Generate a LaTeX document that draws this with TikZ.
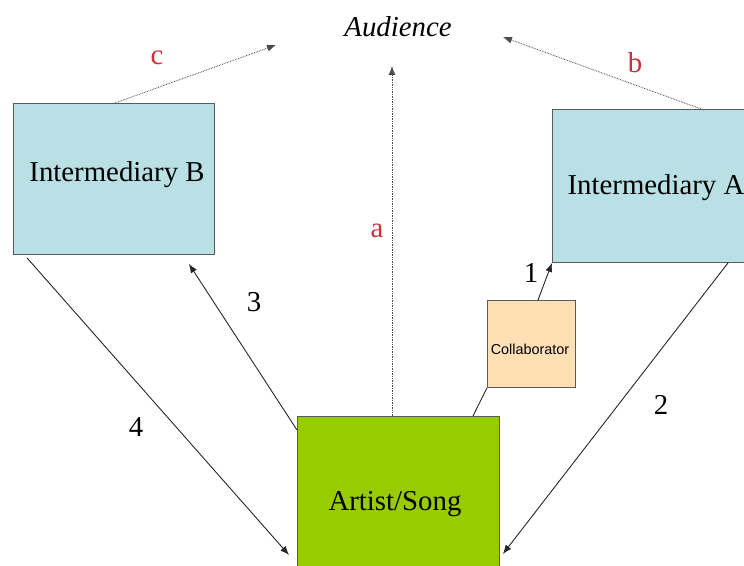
\documentclass[tikz,border=0pt]{standalone}
\usepackage{fontspec}
\setmainfont{Liberation Serif}
\newfontfamily\arialf{Liberation Sans}
\usetikzlibrary{arrows.meta}
\definecolor{boxblue}{RGB}{185,224,228}
\definecolor{songgreen}{RGB}{153,204,0}
\definecolor{peach}{RGB}{255,224,181}
\definecolor{labred}{RGB}{200,50,56}
\definecolor{edgegray}{RGB}{90,90,90}
\begin{document}
\begin{tikzpicture}[x=1pt,y=-1pt,
  box/.style={draw=edgegray, line width=0.9pt, inner sep=0pt, anchor=north west},
  big/.style={font=\fontsize{28.8}{34}\selectfont, inner sep=0pt, anchor=base},
  redlab/.style={big, text=labred},
  tip/.style={-{Latex[length=9pt,width=7pt]}},
  conn/.style={tip, line width=0.9pt, draw=black!85},
  dotconn/.style={tip, line width=0.8pt, draw=black!70, dash pattern=on 0.8pt off 0.9pt}]
\useasboundingbox (0,0) rectangle (744,565);
\clip (0,0) rectangle (744,565);
% boxes
\node[box, fill=boxblue, minimum width=201pt, minimum height=151pt] (ib) at (13,103) {};
\node[box, fill=boxblue, minimum width=201pt, minimum height=153pt] (ia) at (552,109) {};
\node[box, fill=songgreen, minimum width=202pt, minimum height=160pt] (artist) at (297,416) {};
\node[box, fill=peach, minimum width=88pt, minimum height=87pt] (collab) at (487,300) {};
% texts
\node[big] (tib) at (117,181) {Intermediary B};
\node[big] (tia) at (656,194) {Intermediary A};
\node[big] (tartist) at (395,510) {Artist/Song};
\node[inner sep=0pt, anchor=base, font=\arialf\fontsize{14.4}{17}\selectfont] (tcollab) at (530,354) {Collaborator};
\node[big] (aud) at (398,36) {\itshape Audience};
% free ends
\coordinate (ta) at (392,66);
\coordinate (tb) at (503,37);
\coordinate (tc) at (276,45);
% connectors
\draw[dotconn] ([shift={(95,0)}]artist.north west) -- (ta);
\draw[dotconn] ([shift={(152,1)}]ia.north west) -- (tb);
\draw[dotconn] ([shift={(102,0)}]ib.north west) -- (tc);
\draw[conn] ([shift={(51,0)}]collab.north west) -- (ia.south west);
\draw[line width=0.9pt, draw=black!85] ([shift={(176,0)}]artist.north west) -- (collab.south west);
\draw[conn] ([shift={(176,0)}]ia.south west) -- ([shift={(3,138)}]artist.north east);
\draw[conn] ([shift={(0,14)}]artist.north west) -- ([shift={(-26,9)}]ib.south east);
\draw[conn] ([shift={(14,3)}]ib.south west) -- ([shift={(-8,139)}]artist.north west);
% labels
\node[redlab] (la) at (377,237) {a};
\node[redlab] (lb) at (635,72) {b};
\node[redlab] (lc) at (157,64) {c};
\node[big] (l1) at (531,282) {1};
\node[big] (l2) at (661,414) {2};
\node[big] (l3) at (254,311) {3};
\node[big] (l4) at (136,436) {4};
\end{tikzpicture}
\end{document}
